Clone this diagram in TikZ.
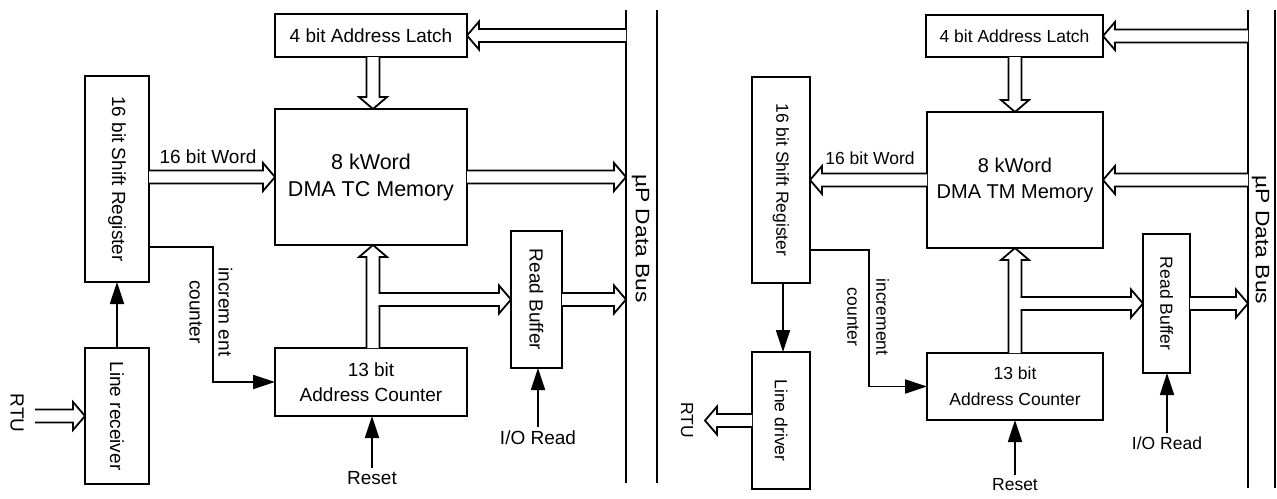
\documentclass[tikz,border=0pt]{standalone}
\usepackage{fontspec}
\usepackage{graphicx}
\setmainfont{Liberation Sans}
\usetikzlibrary{arrows.meta,calc}
\begin{document}
\begin{tikzpicture}[x=1pt,y=-1pt,
  box/.style={draw, line width=2.6pt, inner sep=0pt, outer sep=0pt, align=center},
  fL/.style={font=\fontsize{19}{26}\selectfont},
  fR/.style={font=\fontsize{17.5}{24}\selectfont},
  fB/.style={font=\fontsize{19.5}{24}\selectfont, rotate=-90},
  incL/.style={font=\fontsize{19}{29}\selectfont, align=center, rotate=-90},
  incR/.style={font=\fontsize{17.5}{29}\selectfont, align=center, rotate=-90},
  wire/.style={line width=1.8pt},
  sig/.style={line width=1.8pt, -{Triangle[length=22pt,width=14pt]}},
  bus/.style={line width=1.8pt, line join=miter, fill=white,
    to path={let \p1=(\tikztostart), \p2=(\tikztotarget),
      \n1={atan2(\y2-\y1,\x2-\x1)}, \n2={veclen(\x2-\x1,\y2-\y1)} in
      [shift={(\p1)}, rotate=\n1]
      (0,6.5) -- (\n2-12,6.5) -- (\n2-12,14) -- (\n2,0) -- (\n2-12,-14) -- (\n2-12,-6.5) -- (0,-6.5)}}
]
\useasboundingbox (0,0) rectangle (1277,498);

% ================= LEFT =================
\node[box, fL, minimum width=192, minimum height=43] (latchL) at (371,35.5) {4 bit Address Latch};
\node[box, minimum width=192, minimum height=136, font=\fontsize{21.5}{27}\selectfont] (memL) at (371,177) {8 kWord\\DMA TC Memory};
\node[box, minimum width=64, minimum height=206] (srL) at (117,179) {};
\node[fL, rotate=-90] (srLt) at (srL) {16 bit Shift Register};
\node[box, minimum width=64, minimum height=136] (lrL) at (117,416) {};
\node[fL, rotate=-90] (lrLt) at (lrL) {Line receiver};
\node[box, minimum width=192, minimum height=68, font=\fontsize{19}{25}\selectfont] (cntL) at (371,382) {13 bit\\Address Counter};
\node[box, minimum width=51, minimum height=137] (rbL) at (536.5,299.5) {};
\node[fL, rotate=-90] (rbLt) at (rbL) {Read Buffer};

\coordinate (busL) at (626,0);
\draw[wire] (626,10) -- (626,483);
\draw[wire] (657,10) -- (657,483);
\node[fB] (busLt) at (640.5,238.5) {\scalebox{1.17}[1]{µP Data Bus}};

\coordinate (vxL) at (373,0);
\coordinate (rtuL) at (35,0);
\coordinate (incxL) at (213,0);
\coordinate (incyL) at (0,247);

\draw[bus] (busL |- latchL.east) to (latchL.east);
\draw[bus] (latchL.south -| vxL) to (memL.north -| vxL);
\draw[bus] (srL.east |- memL.west) to (memL.west);
\draw[bus] (memL.east) to (busL |- memL.east);
\draw[bus] (cntL.north -| vxL) to (memL.south -| vxL);
\fill[white] ($(vxL |- rbL.west)+(5,-6.5)$) rectangle ($(vxL |- rbL.west)+(8.5,6.5)$);
\draw[bus] ($(vxL |- rbL.west)+(5.6,0)$) to (rbL.west);
\draw[bus] (rbL.east) to (busL |- rbL.east);
\draw[bus] (rtuL |- lrL.west) to (lrL.west);
\node[fL, rotate=-90] (rtuLt) at (17,413) {RTU};

\node[fL] (wordL) at (208,157) {16 bit Word};
\draw[sig] (lrL.north) -- (srL.south);
\draw[sig] (srL.east |- incyL) -- (incxL |- incyL) -- (incxL |- cntL.west) -- (cntL.west);
\node[incL] (incLt) at (211,312) {increm ent\\counter};
\node[fL] (resetL) at (372,478) {Reset};
\draw[sig] (resetL.north) -- (resetL.north |- cntL.south);
\node[fL] (ioL) at (538,438) {I/O Read};
\draw[sig] (ioL.north) -- (ioL.north |- rbL.south);

% ================= RIGHT =================
\node[box, fR, minimum width=177, minimum height=42] (latchR) at (1014.5,36) {4 bit Address Latch};
\node[box, minimum width=176, minimum height=136, font=\fontsize{20}{26}\selectfont] (memR) at (1015,180) {8 kWord\\DMA TM Memory};
\node[box, minimum width=58, minimum height=206] (srR) at (781,180) {};
\node[fR, rotate=-90] (srRt) at (srR) {16 bit Shift Register};
\node[box, minimum width=58, minimum height=137] (ldR) at (781,420.5) {};
\node[fR, rotate=-90] (ldRt) at (ldR) {Line driver};
\node[box, minimum width=176, minimum height=67, font=\fontsize{17.5}{26}\selectfont] (cntR) at (1015,386.5) {13 bit\\Address Counter};
\node[box, minimum width=47, minimum height=139] (rbR) at (1166.5,303.5) {};
\node[fR, rotate=-90] (rbRt) at (rbR) {Read Buffer};

\coordinate (busR) at (1248,0);
\draw[wire] (1248,10) -- (1248,488);
\draw[wire] (1275,10) -- (1275,488);
\node[fB] (busRt) at (1260.5,240) {\scalebox{1.17}[1]{µP Data Bus}};

\coordinate (vxR) at (1015,0);
\coordinate (rtuR) at (705,0);
\coordinate (incxR) at (869,0);
\coordinate (incyR) at (0,250);
\coordinate (sdx) at (783,0);

\draw[bus] (busR |- latchR.east) to (latchR.east);
\draw[bus] (latchR.south -| vxR) to (memR.north -| vxR);
\draw[bus] (memR.west) to (srR.east |- memR.west);
\draw[bus] (busR |- memR.east) to (memR.east);
\draw[bus] (cntR.north -| vxR) to (memR.south -| vxR);
\fill[white] ($(vxR |- rbR.west)+(5,-6.5)$) rectangle ($(vxR |- rbR.west)+(8.5,6.5)$);
\draw[bus] ($(vxR |- rbR.west)+(5.6,0)$) to (rbR.west);
\draw[bus] (rbR.east) to (busR |- rbR.east);
\draw[bus] (ldR.west) to (rtuR |- ldR.west);
\node[fR, rotate=-90] (rtuRt) at (687,420) {RTU};

\node[fR] (wordR) at (870,158) {16 bit Word};
\draw[sig] (srR.south -| sdx) -- (ldR.north -| sdx);
\draw[sig] (srR.east |- incyR) -- (incxR |- incyR) -- (incxR |- cntR.west) -- (cntR.west);
\node[incR] (incRt) at (868,317) {increment\\counter};
\node[fR] (resetR) at (1015,485) {Reset};
\draw[sig] (resetR.north) -- (resetR.north |- cntR.south);
\node[fR] (ioR) at (1167,443) {I/O Read};
\draw[sig] (ioR.north) -- (ioR.north |- rbR.south);
\end{tikzpicture}
\end{document}
